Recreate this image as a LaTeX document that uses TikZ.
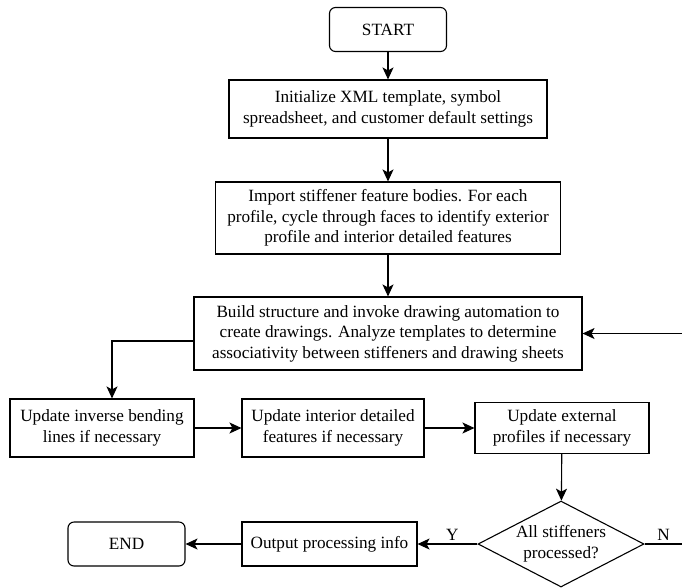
\documentclass[tikz,border=0pt]{standalone}
\usepackage{fontspec}
\setmainfont{Liberation Serif}
\usetikzlibrary{shapes.geometric, arrows.meta}

\tikzstyle{block} =[rectangle, draw, line width = 1.1pt, align = center, inner sep = 0pt, font = \fontsize{17.2}{20.5}\selectfont]
\tikzstyle{terminal} =[block, rounded corners = 6pt, minimum width = 117pt, minimum height = 44pt]
\tikzstyle{decision} =[diamond, draw, line width = 1.1pt, align = center, inner sep = 0pt, aspect = 1.93, minimum width = 166pt, minimum height = 86pt, font = \fontsize{17.2}{20.5}\selectfont]
\tikzstyle{line} = [draw, line width = 1.1pt, -{Stealth[length = 12pt, width = 11pt, inset = 3pt]}]

\begin{document}
\begin{tikzpicture}[x = 1pt, y = 1pt, node distance = 100pt, auto]

  \useasboundingbox (0,0) rectangle (682,-587);

  \node[terminal] (start) at (388,-29.5) {START};
  \node[block, below of = start, node distance = 79.5pt, minimum width = 318pt, minimum height = 58pt] (init) {Initialize XML template, symbol\\spreadsheet, and customer default settings};
  \node[block, below of = init, node distance = 109pt, minimum width = 345pt, minimum height = 72pt] (import) {Import stiffener feature bodies. For each\\profile, cycle through faces to identify exterior\\profile and interior detailed features};
  \node[block, below of = import, node distance = 115.5pt, minimum width = 388pt, minimum height = 73pt] (build) {Build structure and invoke drawing automation to\\create drawings. Analyze templates to determine\\associativity between stiffeners and drawing sheets};
  \node[block, below of = build, node distance = 94.5pt, xshift = -286pt, minimum width = 184pt, minimum height = 58pt] (inverse) {Update inverse bending\\lines if necessary};
  \node[block, right of = inverse, node distance = 231pt, minimum width = 182pt, minimum height = 58pt] (interior) {Update interior detailed\\features if necessary};
  \node[block, right of = interior, node distance = 229pt, minimum width = 174pt, minimum height = 51pt] (external) {Update external\\profiles if necessary};
  \node[decision, below of = external, node distance = 116pt, xshift = -1pt] (check) {All stiffeners\\processed?};
  \node[block, left of = check, node distance = 231.5pt, minimum width = 175pt, minimum height = 44pt] (output) {Output processing info};
  \node[terminal, left of = output, node distance = 203pt] (end) {END};

  \coordinate (loop) at (687,-544);

  \path [line] (start) -- (init);
  \path [line] (init) -- (import);
  \path [line] (import) -- (build);
  \path [line] ([yshift = -7.5pt]build.west) -| ([xshift = 10pt]inverse.north);
  \path [line] (inverse) -- (interior);
  \path [line] (interior) -- (external);
  \path [line] (external) -- (check);
  \path [line] (check) -- node[above, pos = 0.42, font = \fontsize{17.2}{20.5}\selectfont] {Y} (output);
  \path [line] (output) -- (end);
  \path [line] (check.east) -- node[above, pos = 0.45, font = \fontsize{17.2}{20.5}\selectfont] {N} (loop) |- (build.east);

\end{tikzpicture}
\end{document}
